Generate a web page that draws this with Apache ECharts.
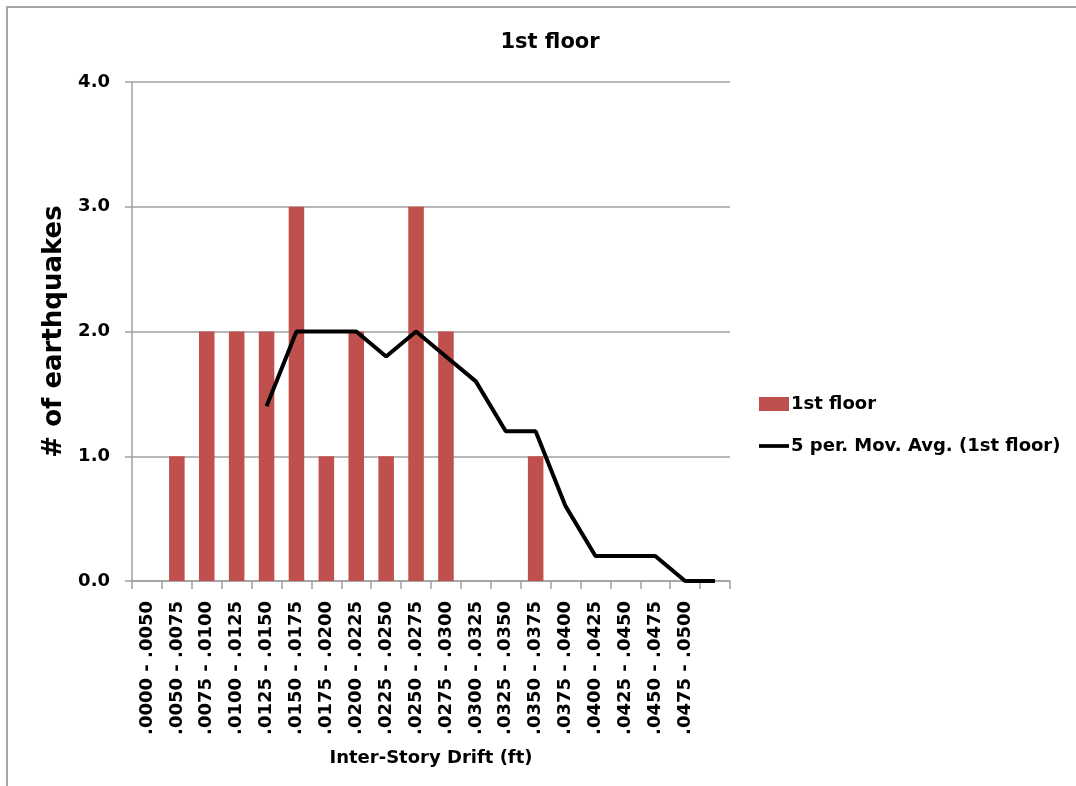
<!DOCTYPE html>
<html>
<head>
<meta charset="utf-8">
<script src="https://cdn.jsdelivr.net/npm/echarts@6/dist/echarts.min.js"></script>
<style>html,body{margin:0;padding:0;background:#fff;}#c{width:1076px;height:786px;}</style>
</head>
<body>
<div id="c"></div>
<script>
const categories = ['.0000 - .0050','.0050 - .0075','.0075 - .0100','.0100 - .0125','.0125 - .0150','.0150 - .0175','.0175 - .0200','.0200 - .0225','.0225 - .0250','.0250 - .0275','.0275 - .0300','.0300 - .0325','.0325 - .0350','.0350 - .0375','.0375 - .0400','.0400 - .0425','.0425 - .0450','.0450 - .0475','.0475 - .0500',''];
const counts = [0,1,2,2,2,3,1,2,1,3,2,0,0,1,0,0,0,0,0,0];
const movAvg = [null,null,null,null,1.4,2,2,2,1.8,2,1.8,1.6,1.2,1.2,0.6,0.2,0.2,0.2,0,0];
const yTicks = [0,1,2,3,4];

const FONT = 'DejaVu Sans';
const gridColor = '#a0a0a0';
const chart = echarts.init(document.getElementById('c'), null, {renderer:'canvas'});
chart.setOption({
  animation:false,
  backgroundColor:'#fff',
  title:{text:'1st floor', left:545, textAlign:'center', top:27,
    textStyle:{fontFamily:FONT, fontWeight:'bold', fontSize:21, color:'#000'}},
  graphic:[{type:'rect', shape:{x:7,y:7,width:3000,height:3000}, style:{fill:'none', stroke:'#a6a6a6', lineWidth:2}, silent:true}],
  legend:{orient:'vertical', left:754, top:390, itemGap:24, itemWidth:30, itemHeight:14, symbolKeepAspect:true,
    textStyle:{fontFamily:FONT, fontWeight:'bold', fontSize:18, color:'#000', padding:[0,0,0,-3]},
    data:[{name:'1st floor', icon:'rect'}, {name:'5 per. Mov. Avg. (1st floor)', icon:'path://M0,0L32,0L32,4L0,4Z'}]},
  grid:{left:132, right:346, top:82, bottom:205},
  xAxis:{type:'category', data:categories, boundaryGap:true,
    name:'Inter-Story Drift (ft)', nameLocation:'middle', nameGap:168,
    nameTextStyle:{fontFamily:FONT, fontWeight:'bold', fontSize:18, color:'#000'},
    axisLine:{lineStyle:{color:gridColor, width:1.5}},
    axisTick:{show:true, length:8, alignWithLabel:false, interval:0, lineStyle:{color:gridColor, width:1.5}},
    axisLabel:{rotate:90, interval:0, margin:20, fontFamily:FONT, fontWeight:'bold', fontSize:18, color:'#000'}},
  yAxis:{type:'value', min:yTicks[0], max:yTicks[yTicks.length-1], interval:1,
    name:'# of earthquakes', nameLocation:'middle', nameGap:62, nameRotate:90,
    nameTextStyle:{fontFamily:FONT, fontWeight:'bold', fontSize:26, color:'#000'},
    axisLine:{show:true, lineStyle:{color:gridColor, width:1.5}},
    axisTick:{show:true, length:7, lineStyle:{color:gridColor, width:1.5}},
    splitLine:{lineStyle:{color:gridColor, width:1.5}},
    axisLabel:{margin:22, fontFamily:FONT, fontWeight:'bold', fontSize:18, color:'#000', formatter:v=>v.toFixed(1)}},
  series:[
    {name:'1st floor', type:'bar', data:counts, barWidth:'52%', itemStyle:{color:'#C0504D'}},
    {name:'5 per. Mov. Avg. (1st floor)', type:'line', data:movAvg, symbol:'none', connectNulls:false,
      lineStyle:{color:'#000', width:4}, itemStyle:{color:'#000'}}
  ]
});
</script>
</body>
</html>
